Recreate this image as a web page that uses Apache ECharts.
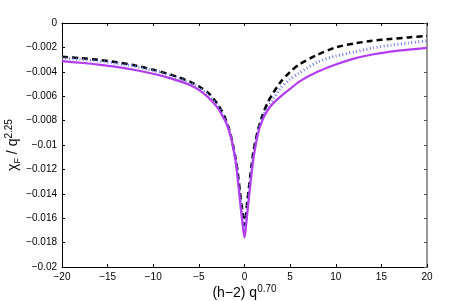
<!DOCTYPE html>
<html><head><meta charset="utf-8">
<script src="https://cdn.jsdelivr.net/npm/echarts@6/dist/echarts.min.js"></script>
<style>html,body{margin:0;padding:0;background:#fff}#c{width:471px;height:301px}</style>
</head><body><div id="c"></div>
<script>
const xTicks = [-20, -15, -10, -5, 0, 5, 10, 15, 20];
const yTicks = [0, -0.002, -0.004, -0.006, -0.008, -0.01, -0.012, -0.014, -0.016, -0.018, -0.02];
const xs = [-20, -18, -16, -14, -12, -10, -8, -6, -5, -4, -3, -2.5, -2, -1.5, -1, -0.75, -0.5, -0.25, 0,
            0.25, 0.5, 0.75, 1, 1.5, 2, 2.5, 3, 4, 5, 6, 8, 10, 12, 14, 16, 18, 20];
const blackDashed = [-0.00277, -0.00288, -0.00302, -0.00322, -0.00348, -0.00383, -0.00425, -0.00480, -0.00520, -0.00570, -0.0066, -0.0072, -0.0080, -0.0092, -0.0110, -0.0122, -0.0138, -0.0153, -0.0166,
            -0.0150, -0.0134, -0.0118, -0.0104, -0.0087, -0.0075, -0.0066, -0.0059, -0.0048, -0.0040, -0.0034, -0.00260, -0.00200, -0.00168, -0.00146, -0.00131, -0.00118, -0.00106];
const blueDotted = [-0.00288, -0.00298, -0.00312, -0.00331, -0.00356, -0.00390, -0.00432, -0.00490, -0.00530, -0.00588, -0.0067, -0.0073, -0.0081, -0.0093, -0.0111, -0.0124, -0.0142, -0.0158, -0.0172,
            -0.0155, -0.0138, -0.0122, -0.0107, -0.0088, -0.0077, -0.0070, -0.0064, -0.0053, -0.0046, -0.0041, -0.0032, -0.0027, -0.00238, -0.00205, -0.00183, -0.00163, -0.00147];
const purpleSolid = [-0.00313, -0.00326, -0.00341, -0.00360, -0.00385, -0.00416, -0.00456, -0.00508, -0.00548, -0.00608, -0.0069, -0.0075, -0.0082, -0.0093, -0.0112, -0.0127, -0.0145, -0.0162, -0.0176,
            -0.0160, -0.0142, -0.0125, -0.0110, -0.0090, -0.0079, -0.0072, -0.0067, -0.0060, -0.0054, -0.0048, -0.0040, -0.0034, -0.00292, -0.00258, -0.00234, -0.00218, -0.00204];

const pair = arr => xs.map((x, i) => [x, arr[i]]);
const fmtY = v => (Math.abs(v) < 1e-12 ? '0' : String(+v.toFixed(3)).replace('-', '\u2212'));
const fmtX = v => String(v).replace('-', '\u2212');
const font = 'Liberation Sans, Arial, sans-serif';

const chart = echarts.init(document.getElementById('c'), null, {renderer: 'canvas'});
chart.setOption({
  animation: false,
  backgroundColor: '#fff',
  grid: {left: 62, right: 44, top: 23, bottom: 34, containLabel: false, outerBoundsMode: 'none'},
  xAxis: [{
    type: 'value', min: -20, max: 20, interval: 5,
    axisLine: {onZero: false, lineStyle: {color: '#000', width: 1}},
    axisTick: {inside: true, length: 3, lineStyle: {color: '#000'}},
    axisLabel: {formatter: fmtX, color: '#000', fontSize: 10, fontFamily: font, margin: 5},
    splitLine: {show: false},
    name: '{a|(h\u22122) q}{s|0.70}', nameLocation: 'middle', nameGap: 17, nameMoveOverlap: false,
    nameTextStyle: {rich: {
      a: {fontSize: 14, fontFamily: font, color: '#000', lineHeight: 16, verticalAlign: 'bottom'},
      s: {fontSize: 10, fontFamily: font, color: '#000', lineHeight: 10, verticalAlign: 'top'}
    }}
  }, {
    type: 'value', min: -20, max: 20, interval: 5, position: 'top',
    axisLine: {show: true, onZero: false, lineStyle: {color: '#000', width: 1}},
    axisTick: {show: true, inside: true, length: 3, lineStyle: {color: '#000'}},
    axisLabel: {show: false}, splitLine: {show: false}
  }],
  yAxis: [{
    type: 'value', min: -0.02, max: 0, interval: 0.002,
    axisLine: {show: true, onZero: false, lineStyle: {color: '#000', width: 1}},
    axisTick: {show: true, inside: true, length: 3, lineStyle: {color: '#000'}},
    axisLabel: {formatter: fmtY, color: '#000', fontSize: 10, fontFamily: font, margin: 5},
    splitLine: {show: false},
    name: '{a|\u03c7}{b|F}{a| / q}{s|2.25}', nameLocation: 'middle', nameGap: 40, nameRotate: 90, nameMoveOverlap: false,
    nameTextStyle: {rich: {
      a: {fontSize: 14, fontFamily: font, color: '#000', lineHeight: 18, verticalAlign: 'middle'},
      b: {fontSize: 9, fontFamily: font, color: '#000', lineHeight: 9, verticalAlign: 'bottom'},
      s: {fontSize: 10, fontFamily: font, color: '#000', lineHeight: 10, verticalAlign: 'top'}
    }}
  }, {
    type: 'value', min: -0.02, max: 0, interval: 0.002, position: 'right',
    axisLine: {show: true, onZero: false, lineStyle: {color: '#777', width: 1.5}},
    axisTick: {show: true, inside: true, length: 3, lineStyle: {color: '#555'}},
    axisLabel: {show: false}, splitLine: {show: false}
  }],
  series: [{
    type: 'line', data: pair(blackDashed), showSymbol: false, smooth: 0.25,
    lineStyle: {color: '#000', width: 2.5, type: [6, 4]}, z: 2
  }, {
    type: 'line', data: pair(blueDotted), showSymbol: false, smooth: 0.25,
    lineStyle: {color: '#6d7cf7', width: 3, type: [1, 2.5]}, z: 3
  }, {
    type: 'line', data: pair(purpleSolid), showSymbol: false, smooth: 0.25,
    lineStyle: {color: '#b13cf2', width: 2.2}, z: 4
  }]
});
</script></body></html>
